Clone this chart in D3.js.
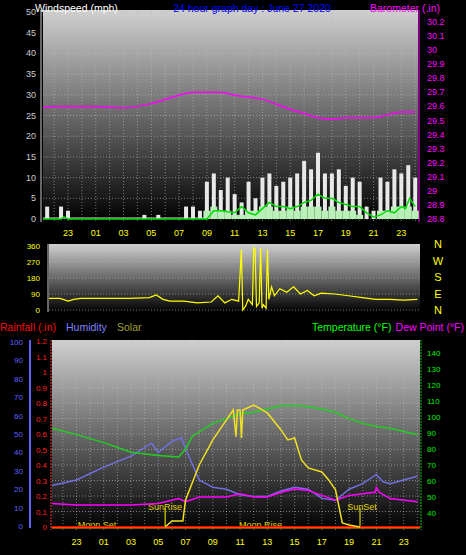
<!DOCTYPE html>
<html><head><meta charset="utf-8">
<script src="https://cdn.jsdelivr.net/npm/d3@7"></script>
<style>body{margin:0;background:#000}svg{display:block}text{font-family:"Liberation Sans",Arial,sans-serif}</style>
</head><body>
<script>
// hours run from 21 (prev day) to 48 (= 24 of June 27)
var xTickHours = [23,25,27,29,31,33,35,37,39,41,43,45,47];
var xTickLabels = ["23","01","03","05","07","09","11","13","15","17","19","21","23"];

// wind, half-hour steps from 21.5
var windTimes = d3.range(21.5, 48.01, 0.5);
var windGust = [3,0,3,2,0,0,0,0,0,0,0,0,0,0,1,0,1,0,0,0,3,3,2,9,11,7,10,6,4,9,5,10,11,8,9,10,11,14,12,16,11,11,12,8,10,9,3,2,10,9,12,11,13,10];
var windAvg  = [0,0,0,0,0,0,0,0,0,0,0,0,0,0,0,0,0,0,0,0,0,0,0,2,3,2,2,1,1,2,2,3,3,2,2,3,2,3,3,3,2,3,2,2,2,1,0,0,2,2,3,3,3,2];
var windLineT = [21.2,22.5,22.7,23,33,33.5,34,35,35.5,36,36.5,37,37.5,38,38.5,39,39.5,40,40.5,41,41.5,42,42.5,43,43.5,44,44.5,45,45.5,46,46.5,47,47.3,47.6,48];
var windLine  = [0,0,0.5,0,0,2,2,1.5,3,1.5,1,2.5,4,3,3,2.5,3,4,4.5,6,5,5,4,3.5,3,3,1.5,0.5,1,2,1.5,3,2.5,5,3];

var baroT = [21.2,22,23,25,27,29,31,32,33,34,35,37,39,40,41,42,43,44,45,46,47,48];
var baro  = [29.59,29.6,29.6,29.6,29.59,29.62,29.68,29.7,29.7,29.7,29.68,29.65,29.58,29.55,29.52,29.51,29.52,29.52,29.52,29.54,29.56,29.56];

var dirT = [21.2,22,22.6,23,23.5,25,27,28.5,29,29.5,30,31,32,33,33.5,34,34.5,35,35.2,35.3,35.4,35.5,35.7,36,36.1,36.2,36.3,36.5,36.6,36.7,36.8,37,37.1,37.2,37.4,37.6,38,38.5,39,39.5,40,40.5,41,42,43,44,45,46,47,48];
var dirV = [65,65,50,60,65,65,65,70,85,60,50,50,40,45,80,40,60,50,340,0,10,20,60,30,350,340,20,40,350,10,30,10,340,60,130,80,120,100,130,90,110,80,95,90,80,70,60,60,55,60];

var humT = [21.2,23,25,27,28.5,29,30,30.7,31,32,33,34,35,36,37,38,39,40,41,42,43,44,45,45.1,45.5,46,47,48];
var hum  = [22,25,32,38,45,40,46,48,42,25,21,20,17,16,16,19,21,20,15,14,20,23,28,27,24,23,25,27];
var tempT = [21.2,23,25,27,29,30.5,31,31.5,33,34,35,36,37,38,39.5,41,42,43,44,45,46,47,48];
var temp  = [93,89,84,78,76,75,80,88,96,99,102,103,105,107,107,105,103,99,96,94,93,91,89];
var dewT = [21.2,23,25,27,29,30.5,31,32,34,35,36,37,38,39,40,41,42,43,44,44.9,45,45.2,46,48];
var dew  = [46,45,45,45,46,49,47,50,50,52,50,50,53,55,54,51,48,51,52,53,56,53,49,47];
var solarT = [29.5,30,30.8,31,32,33,34,34.5,34.7,34.8,35,35.1,35.2,36,37,38,38.5,39,39.5,40,41,41.5,42,42.5,43,43.8];
var solar  = [0,39,39,173,398,559,687,751,580,751,751,571,751,783,732,623,559,571,430,379,353,302,238,26,13,0];
var rain = [0,0];
var sunRise = 29.5, sunSet = 43.8;

var W = 466, H = 555;
var svg = d3.select("body").append("svg").attr("width", W).attr("height", H);
var defs = svg.append("defs");
var g = defs.append("linearGradient").attr("id","bg").attr("x1",0).attr("y1",0).attr("x2",0).attr("y2",1);
g.append("stop").attr("offset","0%").attr("stop-color","#d0d0d0");
g.append("stop").attr("offset","100%").attr("stop-color","#000");

function panel(x0, x1, y0, y1, hLines, vLines) {
  svg.append("rect").attr("x",x0).attr("y",y0).attr("width",x1-x0).attr("height",y1-y0).attr("fill","url(#bg)");
  hLines.forEach(function(y){ svg.append("line").attr("x1",x0).attr("x2",x1).attr("y1",y).attr("y2",y)
    .attr("stroke","#bbb").attr("stroke-dasharray","1,2").attr("opacity",0.6); });
  vLines.forEach(function(x){ svg.append("line").attr("x1",x).attr("x2",x).attr("y1",y0).attr("y2",y1)
    .attr("stroke","#bbb").attr("stroke-dasharray","1,2").attr("opacity",0.6); });
}
function label(x,y,t,c,anchor,size){ return svg.append("text").attr("x",x).attr("y",y).attr("fill",c)
  .attr("text-anchor",anchor||"start").attr("font-size",size||10.5).text(t); }

// ---------- top panel ----------
var xT = d3.scaleLinear().domain([21.2,48.2]).range([43,418]);
var yW = d3.scaleLinear().domain([0,50]).range([219,12]);
var yB = d3.scaleLinear().domain([28.8,30.2]).range([219,22]);
panel(43,418,10,222, d3.range(0,51,5).map(yW), d3.range(22,49).map(xT));
svg.append("line").attr("x1",419).attr("x2",419).attr("y1",10).attr("y2",222).attr("stroke","#ff00ff");
svg.append("line").attr("x1",41).attr("x2",41).attr("y1",10).attr("y2",222).attr("stroke","#ccc");
d3.range(0,51,5).forEach(function(v){ label(36,yW(v)+3,v,"#ccc","end",9); });
d3.range(28.8,30.21,0.1).forEach(function(v){ label(427,yB(v)+3,d3.format(".1~f")(v),"#ff00ff","start",9); });
xTickHours.forEach(function(h,i){ label(xT(h),236,xTickLabels[i],"#ffff00","middle",9); });
windTimes.forEach(function(t,i){
  svg.append("rect").attr("x",xT(t)-2).attr("width",4).attr("y",yW(windGust[i])).attr("height",yW(0)-yW(windGust[i])).attr("fill","#e8e8e8");
});
svg.append("line").attr("x1",43).attr("x2",xT(33)).attr("y1",yW(0)-1).attr("y2",yW(0)-1).attr("stroke","#ddd");
windTimes.forEach(function(t,i){
  svg.append("rect").attr("x",xT(t)-3.5).attr("width",7).attr("y",yW(windAvg[i])).attr("height",yW(0)-yW(windAvg[i])).attr("fill","#b8f0b8");
});
svg.append("path").datum(windLineT).attr("fill","none").attr("stroke","#00dd00").attr("stroke-width",1.5)
  .attr("d", d3.line().x(function(d){return xT(d);}).y(function(d,i){return yW(windLine[i]);}));
svg.append("path").datum(baroT).attr("fill","none").attr("stroke","#ff00ff").attr("stroke-width",1.5)
  .attr("d", d3.line().curve(d3.curveMonotoneX).x(function(d){return xT(d);}).y(function(d,i){return yB(baro[i]);}));
label(35,12,"Windspeed (mph)","#fff");
label(252,12,"24 hour graph day : June 27 2020","#0000ff","middle");
label(440,12,"Barometer (.in)","#ff00ff","end");

// ---------- direction panel ----------
var xM = d3.scaleLinear().domain([21.2,48.2]).range([49,420]);
var yD = d3.scaleLinear().domain([0,360]).range([310,246]);
panel(49,420,244,312,[0,90,180,270,360].map(yD),[]);
svg.append("line").attr("x1",48).attr("x2",48).attr("y1",244).attr("y2",312).attr("stroke","#ccc");
[0,90,180,270,360].forEach(function(v){ label(40,yD(v)+3,v,"#ffff00","end",8); });
["N","W","S","E","N"].forEach(function(t,i){ label(438,248+i*16.5,t,"#ffff00","middle",11); });
svg.append("path").datum(dirT).attr("fill","none").attr("stroke","#ffff00").attr("stroke-width",1.2)
  .attr("d", d3.line().x(function(d){return xM(d);}).y(function(d,i){return yD(dirV[i]);}));

// ---------- bottom panel ----------
label(0,331,"Rainfall (.in)","#ff0000");
label(66,331,"Humidity","#8080ff");
label(117,331,"Solar","#a0a030");
label(312,331,"Temperature (°F)","#00ff00");
label(464,331,"Dew Point (°F)","#ff00ff","end");
var xL = d3.scaleLinear().domain([21.2,48.2]).range([52,420]);
var yH = d3.scaleLinear().domain([0,100]).range([526,342]);
var yR = d3.scaleLinear().domain([0,1.2]).range([527,341]);
var yTm = d3.scaleLinear().domain([40,140]).range([513,353]);
var yS = d3.scaleLinear().domain([0,1200]).range([527,340]);
panel(52,420,340,530, d3.range(0,1.21,0.1).map(yR), d3.range(22,49).map(xL));
svg.append("line").attr("x1",30).attr("x2",30).attr("y1",340).attr("y2",528).attr("stroke","#6060ff").attr("stroke-width",2);
svg.append("line").attr("x1",51).attr("x2",51).attr("y1",340).attr("y2",530).attr("stroke","#ff4040").attr("stroke-dasharray","2,1");
svg.append("line").attr("x1",421).attr("x2",421).attr("y1",340).attr("y2",530).attr("stroke","#00cc00").attr("stroke-dasharray","2,1");
d3.range(0,101,10).forEach(function(v){ label(23,yH(v)+3,v,"#6060ff","end",8); });
d3.range(0,1.21,0.1).forEach(function(v){ label(47,yR(v)+3,d3.format(".1~f")(v),"#ff2020","end",8); });
d3.range(40,141,10).forEach(function(v){ label(427,yTm(v)+3,v,"#00ee00","start",8); });
xTickHours.forEach(function(h,i){ label(xL(h),545,xTickLabels[i],"#ffff00","middle",9); });
[sunRise,sunSet].forEach(function(t){ svg.append("line").attr("x1",xL(t)).attr("x2",xL(t)).attr("y1",508).attr("y2",528).attr("stroke","#ffff00"); });
label(xL(sunRise),510,"SunRise","#e0d000","middle",9);
label(xL(sunSet)+2,510,"SunSet","#e0d000","middle",9);
label(xL(24.5),528,"Moon Set","#e0d000","middle",9);
label(xL(36.5),528,"Moon Rise","#e0d000","middle",9);
svg.append("line").attr("x1",52).attr("x2",420).attr("y1",yR(rain[0])).attr("y2",yR(rain[1])).attr("stroke","#ff0000").attr("stroke-width",2);
svg.append("line").attr("x1",52).attr("x2",420).attr("y1",yR(0)+1).attr("y2",yR(0)+1).attr("stroke","#ffa000").attr("stroke-width",1);
function series(ts, vs, y, color){
  svg.append("path").datum(ts).attr("fill","none").attr("stroke",color).attr("stroke-width",1.5)
    .attr("d", d3.line().x(function(d){return xL(d);}).y(function(d,i){return y(vs[i]);}));
}
series(humT, hum, yH, "#7070e0");
series(dewT, dew, yTm, "#ff00ff");
series(tempT, temp, yTm, "#20d020");
series(solarT, solar, yS, "#f0e020");
</script>
</body></html>
